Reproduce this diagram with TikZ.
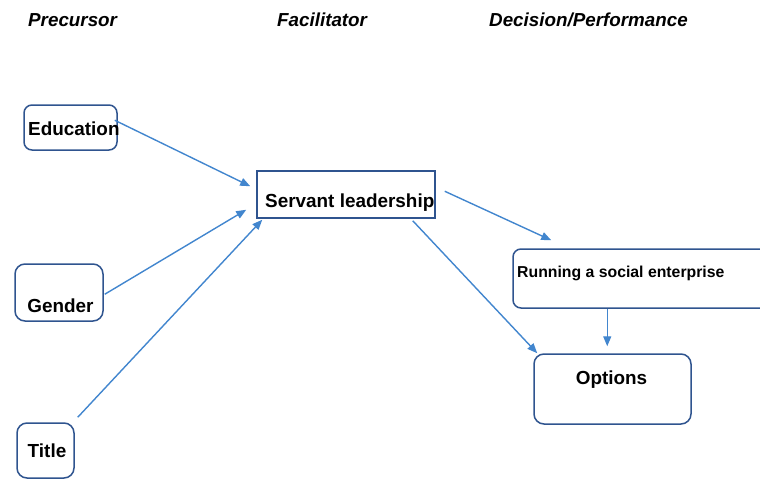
\documentclass[tikz,border=0pt]{standalone}
\usepackage{fontspec}
\setmainfont{Liberation Sans}
\usetikzlibrary{calc,arrows.meta}
\definecolor{boxblue}{RGB}{47,84,143}
\definecolor{arrowblue}{RGB}{66,134,206}
\begin{document}
\begin{tikzpicture}[x=1pt,y=-1pt,
  box/.style={draw=boxblue, line width=1.5pt, rounded corners=8pt, inner sep=0pt, fill=none},
  sharpbox/.style={draw=boxblue, line width=1.5pt, inner sep=0pt},
  lbl/.style={inner sep=0pt, font=\fontsize{18.9}{20}\selectfont\bfseries},
  small/.style={inner sep=0pt, font=\fontsize{15.8}{18}\selectfont\bfseries},
  head/.style={inner sep=0pt, font=\fontsize{18.8}{20}\selectfont\bfseries\itshape},
  link/.style={draw=arrowblue, line width=1.4pt, -{Triangle[length=10pt,width=8pt]}}]
\useasboundingbox (0,0) rectangle (760,479);

% column headings
\node[head, anchor=base west] (hpre) at (28,26) {Precursor};
\node[head, anchor=base west] (hfac) at (277,26) {Facilitator};
\node[head, anchor=base west] (hdec) at (489,26) {Decision/Performance};

% boxes
\node[box, minimum width=93pt, minimum height=45pt] (edu) at (70.5,127.5) {};
\node[box, rounded corners=10pt, minimum width=88pt, minimum height=57pt] (gen) at (59,292.5) {};
\node[box, rounded corners=10pt, minimum width=57pt, minimum height=55pt] (ttl) at (45.5,450.5) {};
\node[sharpbox, minimum width=178pt, minimum height=47pt] (sl) at (346,194.5) {};
\node[box, minimum width=277pt, minimum height=59pt] (run) at (651.5,278.5) {};
\node[box, rounded corners=10pt, minimum width=157pt, minimum height=70pt] (opt) at (612.5,389) {};

% box texts
\node[lbl, anchor=base west] (edutxt) at (28,135) {Education};
\node[lbl, anchor=base] (gentxt) at (60.5,312) {Gender};
\node[lbl, anchor=base] (ttltxt) at (47,457) {Title};
\node[lbl, anchor=base west] (sltxt) at (265,207) {Servant leadership};
\node[small, anchor=base west] (runtxt) at (517,277) {Running a social enterprise};
\node[lbl, anchor=base] (opttxt) at (611.5,384) {Options};

% connector ends
\coordinate (eduout) at ($(edu.north east)+(-3,16)$);
\coordinate (genout) at ($(gen.north east)+(1,31)$);
\coordinate (ttlout) at ($(ttl.north east)+(3,-5)$);
\coordinate (slin1) at ($(sl.north west)+(-6,16)$);
\coordinate (slin2) at ($(sl.south west)+(-10,-9)$);
\coordinate (slin3) at ($(sl.south west)+(6,1)$);
\coordinate (slout1) at ($(sl.north east)+(9,21)$);
\coordinate (slout2) at ($(sl.south east)+(-23,2)$);
\coordinate (runin) at ($(run.north west)+(39,-8)$);
\coordinate (runout) at ($(run.south west)+(95,0)$);
\coordinate (optin1) at ($(opt.north west)+(4,0)$);
\coordinate (optin2) at ($(opt.north west)+(74,-7)$);

% connectors
\draw[link] (eduout) -- (slin1);
\draw[link] (genout) -- (slin2);
\draw[link] (ttlout) -- (slin3);
\draw[link] (slout1) -- (runin);
\draw[link] (slout2) -- (optin1);
\draw[link] (runout) -- (optin2);
\end{tikzpicture}
\end{document}
